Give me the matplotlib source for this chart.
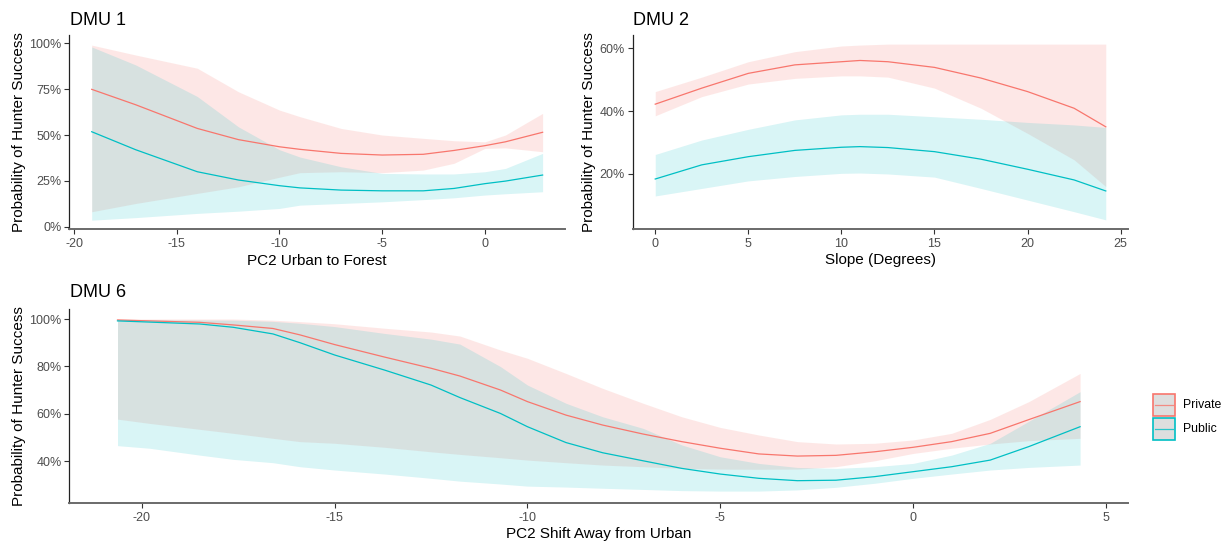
import numpy as np
import matplotlib
matplotlib.use("Agg")
import matplotlib.pyplot as plt
from matplotlib.ticker import PercentFormatter
from matplotlib.patches import Rectangle
from matplotlib.lines import Line2D

plt.rcParams['font.family'] = ['Liberation Sans', 'DejaVu Sans']
plt.rcParams['axes.unicode_minus'] = False

PRIVATE_COL = '#F8766D'
PUBLIC_COL = '#00BFC4'

# ---------------- DMU 1 : PC2 Urban to Forest ----------------
x1 = [-19.14, -17, -14, -12, -10, -9, -7, -5, -3, -1.5, 0, 1, 2.81]
priv1 = [74.9, 66.5, 53.6, 47.5, 43.6, 42.2, 40.0, 39.1, 39.5, 41.6, 44.2, 46.3, 51.5]
priv1_hi = [99.0, 93.6, 86.4, 73.6, 63.6, 60.0, 53.6, 50.0, 48.2, 46.9, 46.3, 50.0, 61.8]
priv1_lo = [8.2, 12.7, 18.2, 21.8, 27.0, 29.5, 30.0, 29.5, 30.9, 34.6, 42.7, 43.0, 40.9]
pub1 = [51.8, 42.0, 30.0, 25.5, 22.4, 21.2, 20.0, 19.6, 19.6, 20.9, 23.5, 24.9, 28.2]
pub1_hi = [98.0, 88.2, 71.0, 54.5, 42.0, 38.0, 32.7, 29.1, 28.8, 28.8, 30.0, 31.8, 40.0]
pub1_lo = [3.6, 5.0, 7.3, 8.5, 10.0, 11.8, 12.7, 13.6, 14.8, 15.8, 17.3, 18.0, 19.1]

# ---------------- DMU 2 : Slope ----------------
x2 = [0, 2.5, 5, 7.5, 10, 11, 12.5, 15, 17.5, 20, 22.5, 24.2]
priv2 = [42.2, 47.3, 52.0, 54.7, 55.7, 56.1, 55.7, 53.9, 50.5, 46.2, 40.9, 35.0]
priv2_hi = [46.2, 50.8, 55.7, 58.9, 60.7, 61.0, 61.3, 61.3, 61.3, 61.3, 61.3, 61.3]
priv2_lo = [38.5, 44.6, 48.6, 50.4, 51.2, 51.2, 50.8, 47.3, 40.9, 32.9, 24.5, 16.0]
pub2 = [18.4, 22.9, 25.5, 27.5, 28.5, 28.7, 28.4, 27.1, 24.7, 21.5, 18.1, 14.6]
pub2_hi = [26.2, 30.8, 34.2, 37.2, 38.8, 39.0, 39.0, 38.2, 37.4, 36.4, 35.6, 34.8]
pub2_lo = [13.0, 15.4, 17.8, 19.2, 20.2, 20.3, 20.0, 19.0, 15.4, 11.7, 8.0, 5.4]

# ---------------- DMU 6 : PC2 Shift Away from Urban ----------------
x3 = [-20.63, -19.8, -18.5, -17.63, -16.6, -15.9, -15, -13.7, -12.5, -11.75, -10.7, -10,
      -9, -8.05, -7, -6, -5, -4, -3, -2, -1, 0, 1, 2, 3, 4.33]
priv3 = [99.6, 99.2, 98.6, 97.5, 96.0, 93.3, 89.2, 83.9, 79.2, 75.9, 70.0, 65.1,
         59.4, 55.2, 51.4, 48.2, 45.4, 43.0, 42.1, 42.4, 43.9, 45.8, 48.2, 51.7, 57.5, 65.1]
priv3_hi = [100.0, 100.0, 100.0, 100.0, 99.5, 98.9, 98.0, 96.1, 94.5, 92.8, 86.9, 83.4,
            77.0, 70.7, 64.4, 58.7, 54.2, 51.0, 48.2, 47.2, 47.5, 48.9, 51.7, 57.6, 65.1, 77.0]
priv3_lo = [57.7, 55.9, 53.4, 51.7, 49.6, 48.2, 47.5, 45.8, 43.9, 42.8, 41.4, 40.4,
            39.3, 38.3, 37.6, 36.9, 36.6, 36.5, 36.6, 37.6, 40.1, 43.2, 45.4, 47.2, 48.6, 49.6]
pub3 = [99.2, 98.7, 97.9, 96.5, 93.7, 90.0, 84.8, 78.4, 72.1, 66.8, 60.1, 54.5,
        47.8, 43.5, 40.1, 36.9, 34.5, 32.7, 31.7, 31.9, 33.4, 35.5, 37.6, 40.4, 46.1, 54.5]
pub3_hi = [99.8, 99.7, 99.6, 99.5, 99.0, 98.2, 96.8, 93.9, 91.5, 89.4, 79.9, 72.1,
           64.4, 58.7, 53.8, 46.8, 41.8, 39.0, 37.3, 36.9, 37.6, 39.0, 42.5, 47.5, 56.8, 69.3]
pub3_lo = [46.5, 45.4, 42.5, 40.7, 39.3, 37.6, 36.2, 34.5, 32.7, 31.5, 30.3, 29.4,
           29.0, 28.5, 28.0, 27.5, 27.3, 27.3, 27.8, 28.9, 30.6, 32.7, 34.5, 36.2, 37.3, 38.3]

W, H = 1227, 543
fig = plt.figure(figsize=(W / 100, H / 100), dpi=100)


def px_box(left, top, right, bottom):
    return [left / W, 1 - bottom / H, (right - left) / W, (bottom - top) / H]


def draw_panel(ax, x, priv, plo, phi, pub, ulo, uhi):
    ax.fill_between(x, plo, phi, color=PRIVATE_COL, alpha=0.17, lw=0)
    ax.fill_between(x, ulo, uhi, color=PUBLIC_COL, alpha=0.15, lw=0)
    ax.plot(x, priv, color=PRIVATE_COL, lw=0.9)
    ax.plot(x, pub, color=PUBLIC_COL, lw=0.9)
    for s in ['top', 'right']:
        ax.spines[s].set_visible(False)
    ax.spines['left'].set_color('#222222')
    ax.spines['left'].set_linewidth(0.9)
    ax.spines['bottom'].set_color('#6a6a6a')
    ax.spines['bottom'].set_linewidth(1.4)
    ax.tick_params(axis='both', length=3.5, width=0.8, color='#333333',
                   labelcolor='#4D4D4D', labelsize=9)
    ax.tick_params(axis='y', pad=2)
    ax.tick_params(axis='x', pad=3)
    ax.yaxis.set_major_formatter(PercentFormatter(100, decimals=0))


ax1 = fig.add_axes(px_box(69.3, 35, 565, 229))
draw_panel(ax1, x1, priv1, priv1_lo, priv1_hi, pub1, pub1_lo, pub1_hi)
ax1.set_xlim(-20.23, 3.9)
ax1.set_ylim(-1.2, 104.5)
ax1.set_xticks([-20, -15, -10, -5, 0])
ax1.set_yticks([0, 25, 50, 75, 100])

ax2 = fig.add_axes(px_box(632.7, 35, 1128.3, 229))
draw_panel(ax2, x2, priv2, priv2_lo, priv2_hi, pub2, pub2_lo, pub2_hi)
ax2.set_xlim(-1.21, 25.41)
ax2.set_ylim(2.5, 64.2)
ax2.set_xticks([0, 5, 10, 15, 20, 25])
ax2.set_yticks([20, 40, 60])

ax3 = fig.add_axes(px_box(69.3, 309.3, 1128.3, 502.7))
draw_panel(ax3, x3, priv3, priv3_lo, priv3_hi, pub3, pub3_lo, pub3_hi)
ax3.set_xlim(-21.88, 5.58)
ax3.set_ylim(22.4, 104.1)
ax3.set_xticks([-20, -15, -10, -5, 0, 5])
ax3.set_yticks([40, 60, 80, 100])

# titles and axis titles
title_kw = dict(fontsize=13, color='black', va='baseline', ha='left')
fig.text(70 / W, 1 - 25 / H, 'DMU 1', **title_kw)
fig.text(633 / W, 1 - 25 / H, 'DMU 2', **title_kw)
fig.text(70 / W, 1 - 297.3 / H, 'DMU 6', **title_kw)

xl_kw = dict(fontsize=11, color='black', va='baseline', ha='center')
fig.text(317.2 / W, 1 - 265 / H, 'PC2 Urban to Forest', **xl_kw)
fig.text(880.5 / W, 1 - 264.3 / H, 'Slope (Degrees)', **xl_kw)
fig.text(598.8 / W, 1 - 538.3 / H, 'PC2 Shift Away from Urban', **xl_kw)

yl_kw = dict(fontsize=11, color='black', va='center', ha='center', rotation=90)
fig.text(18.8 / W, 1 - 132 / H, 'Probability of Hunter Success', **yl_kw)
fig.text(588.8 / W, 1 - 132 / H, 'Probability of Hunter Success', **yl_kw)
fig.text(18.8 / W, 1 - 406 / H, 'Probability of Hunter Success', **yl_kw)

# legend
for label, col, top in [('Private', PRIVATE_COL, 394.3), ('Public', PUBLIC_COL, 418.3)]:
    fig.patches.append(Rectangle((1153 / W, 1 - (top + 21.5) / H), 21.5 / W, 21.5 / H,
                                 transform=fig.transFigure, facecolor='#DEDEDE',
                                 edgecolor=col, lw=1.2))
    ymid = 1 - (top + 10.8) / H
    fig.lines.append(Line2D([1155 / W, 1172.5 / W], [ymid, ymid], transform=fig.transFigure,
                            color=col, lw=0.9, alpha=0.8))
    fig.text(1183.3 / W, ymid, label, fontsize=8.8, color='black', va='center', ha='left')

fig.savefig('out.png', dpi=100)
